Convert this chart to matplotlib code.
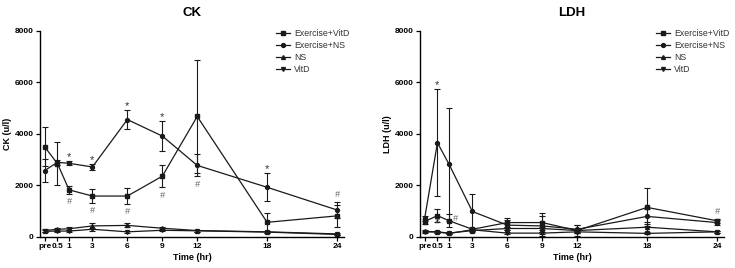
import matplotlib
matplotlib.use("Agg")
from matplotlib import pyplot as plt
from matplotlib.lines import Line2D

plt.rcParams['font.family'] = ['Liberation Sans', 'DejaVu Sans']

# time points (pre is drawn just left of 0.5)
x_labels = ['pre', '0.5', '1', '3', '6', '9', '12', '18', '24']
x_pos = [-1.1, 0, 1, 3, 6, 9, 12, 18, 24]

series_names = ['Exercise+VitD', 'Exercise+NS', 'NS', 'VitD']
series_markers = ['s', 'o', '^', 'v']

# CK (u/l), mean and SD
ck_ex_vitd = [3500, 2850, 1830, 1590, 1590, 2360, 4680, 570, 820]
ck_ex_vitd_err = [760, 850, 150, 260, 300, 430, 2200, 350, 440]
ck_ex_ns = [2580, 2900, 2860, 2720, 4560, 3920, 2780, 1930, 1050]
ck_ex_ns_err = [440, 100, 80, 120, 370, 590, 430, 540, 320]
ck_ns = [250, 300, 320, 430, 450, 340, 250, 200, 120]
ck_ns_err = [50, 60, 60, 110, 80, 60, 40, 30, 30]
ck_vitd = [220, 230, 230, 300, 200, 260, 240, 190, 100]
ck_vitd_err = [40, 40, 40, 60, 40, 40, 30, 30, 20]

# LDH (u/l), mean and SD
ldh_ex_vitd = [600, 830, 630, 300, 560, 560, 250, 1150, 630]
ldh_ex_vitd_err = [80, 250, 250, 60, 170, 360, 200, 740, 80]
ldh_ex_ns = [720, 3660, 2820, 990, 460, 430, 300, 800, 560]
ldh_ex_ns_err = [100, 2080, 2180, 690, 200, 400, 150, 300, 100]
ldh_ns = [220, 200, 150, 250, 330, 330, 250, 380, 200]
ldh_ns_err = [40, 30, 30, 40, 50, 50, 40, 200, 30]
ldh_vitd = [200, 190, 140, 280, 150, 150, 200, 140, 200]
ldh_vitd_err = [30, 30, 20, 40, 30, 30, 30, 30, 30]

# significance marks: (time index, symbol, which series, where)
ck_marks = [(2, '*', 1, 'up'), (3, '*', 1, 'up'), (4, '*', 1, 'up'), (5, '*', 1, 'up'), (7, '*', 1, 'up'),
            (2, '#', 0, 'down'), (3, '#', 0, 'down'), (4, '#', 0, 'down'), (5, '#', 0, 'down'),
            (6, '#', 1, 'down'), (8, '#', 1, 'up')]
ldh_marks = [(1, '*', 1, 'up'), (1, '#', 0, 'in'), (2, '#', 0, 'right'), (8, '#', 0, 'up')]

line_col = '#1a1a1a'


def draw_panel(ax, data, errs, title, ylab, marks):
    for vals, err, name, mk in zip(data, errs, series_names, series_markers):
        ax.errorbar(x_pos, vals, yerr=err, color=line_col, lw=0.9, marker=mk, ms=2.8,
                    capsize=2.2, elinewidth=0.8, capthick=0.8, clip_on=False)
    for i, sym, s, where in marks:
        m = data[s][i]
        e = errs[s][i]
        if where == 'up':
            x, y = x_pos[i], m + e + 280
        elif where == 'down':
            x, y = x_pos[i], m - e - 300
        elif where == 'in':
            x, y = x_pos[i], m - 230
        else:
            x, y = x_pos[i] + 0.5, m + 70
        if sym == '*':
            ax.text(x, y - 120, sym, ha='center', va='center', fontsize=8, color='#333333')
        else:
            ax.text(x, y, sym, ha='center', va='center', fontsize=6.5, color='#666666', style='italic')
    ax.set_xlim(-1.5, 24.6)
    ax.set_ylim(0, 8000)
    ax.set_xticks(x_pos)
    ax.set_xticklabels(x_labels)
    ax.set_yticks([0, 2000, 4000, 6000, 8000])
    for sp in ['top', 'right']:
        ax.spines[sp].set_visible(False)
    for sp in ['left', 'bottom']:
        ax.spines[sp].set_linewidth(1.0)
    ax.tick_params(direction='out', length=3, width=0.9, pad=1.5, labelsize=6)
    for lab in ax.get_xticklabels() + ax.get_yticklabels():
        lab.set_fontweight('bold')
    ax.set_title(title, fontsize=9.5, fontweight='bold', pad=11)
    ax.set_xlabel('Time (hr)', fontsize=6.5, fontweight='bold', labelpad=2)
    ax.set_ylabel(ylab, fontsize=6.5, fontweight='bold', labelpad=2)
    handles = [Line2D([], [], color=line_col, lw=0.9, marker=mk, ms=2.8) for mk in series_markers]
    ax.legend(handles, series_names, loc='upper left', bbox_to_anchor=(0.775, 1.01), frameon=False,
              fontsize=6.3, handlelength=1.6, handletextpad=0.5, labelspacing=0.35, borderpad=0,
              borderaxespad=0, labelcolor='#333333')


fig = plt.figure(figsize=(7.35, 2.68), dpi=100)
ax1 = fig.add_axes([0.0544, 0.1157, 0.4136, 0.7687])
ax2 = fig.add_axes([0.5714, 0.1157, 0.4136, 0.7687])

draw_panel(ax1, [ck_ex_vitd, ck_ex_ns, ck_ns, ck_vitd],
           [ck_ex_vitd_err, ck_ex_ns_err, ck_ns_err, ck_vitd_err], 'CK', 'CK (u/l)', ck_marks)
draw_panel(ax2, [ldh_ex_vitd, ldh_ex_ns, ldh_ns, ldh_vitd],
           [ldh_ex_vitd_err, ldh_ex_ns_err, ldh_ns_err, ldh_vitd_err], 'LDH', 'LDH (u/l)', ldh_marks)

fig.savefig('out.png', dpi=100)
